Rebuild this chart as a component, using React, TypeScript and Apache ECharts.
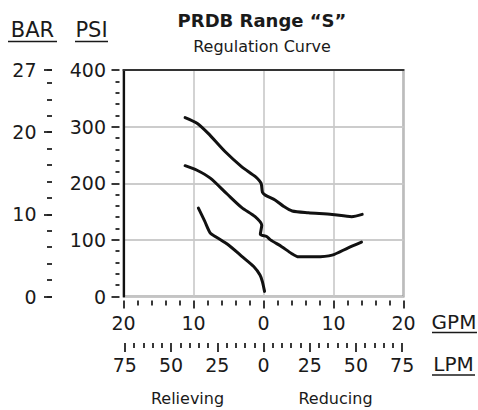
import React, { useEffect, useRef } from "react";
import * as echarts from "echarts";

// ---- data (GPM signed: negative = relieving, positive = reducing; PSI) ----
const curveHigh: [number, number][] = [
  [-11.2, 316], [-9.5, 306], [-7.9, 288], [-5.5, 256], [-3.1, 229], [-1.2, 212],
  [-0.35, 200], [-0.15, 184], [0.25, 179], [1.7, 170], [2.9, 159], [4.1, 151],
  [6.4, 148], [9.8, 145], [12.6, 141], [14.1, 145],
];
const curveMid: [number, number][] = [
  [-11.2, 231], [-9.5, 223], [-7.6, 209], [-5.2, 181], [-3.1, 157], [-1.2, 141],
  [-0.25, 126], [-0.45, 110], [0.45, 106], [1.0, 100], [2.6, 88], [4.0, 76],
  [5.0, 70], [7.4, 70], [9.8, 73], [12.1, 86], [14.0, 96],
];
const curveLow: [number, number][] = [
  [-9.3, 156], [-8.4, 133], [-7.6, 112], [-6.9, 106], [-5.0, 91], [-3.1, 71],
  [-1.4, 53], [-0.5, 38], [-0.15, 26], [0.15, 9],
];

const gpmRange = [-20, 20];
const gpmStep = 10;
const lpmRange = [-75, 75];
const lpmStep = 25;
const psiRange = [0, 400];
const psiStep = 100;
const barLabels = [0, 10, 20, 27];
const PSI_PER_BAR = 14.5038;
const LPM_PER_GPM = 3.78541;

const titleText = "PRDB Range \u201CS\u201D";
const subtitleText = "Regulation Curve";

const FONT = '"DejaVu Sans", "Liberation Sans", Arial, sans-serif';
const INK = "#1a1a1a";

export default function App() {
  const ref = useRef<HTMLDivElement>(null);
  useEffect(() => {
    if (!ref.current) return;
    const chart = echarts.init(ref.current, null, { renderer: "svg" });

    const gLeft = 123.5;
    const gWidth = 280;
    const gTop = 70;
    const gHeight = 226.5;
    const pxPerGpm = gWidth / (gpmRange[1] - gpmRange[0]);
    const lpmHalf = (lpmRange[1] / LPM_PER_GPM) * pxPerGpm;
    const zeroX = gLeft + gWidth / 2;
    const barMax = psiRange[1] / PSI_PER_BAR;

    const tickStyle = { color: "#222", width: 1.8 };
    const labelStyle = { fontFamily: FONT, fontSize: 19, color: INK };
    const gridLine = () => ({ show: true, lineStyle: { color: "#c8c8c8", width: 1.6, type: "solid" } });

    const lineSeries = (data: [number, number][]) => ({
      type: "line",
      data,
      xAxisIndex: 0,
      yAxisIndex: 0,
      symbol: "none",
      smooth: 0.25,
      lineStyle: { color: "#111", width: 3, cap: "round", join: "round" },
      z: 5,
    });

    const textEl = (text: string, x: number, y: number, size: number, bold = false) => ({
      type: "text",
      x,
      y,
      style: {
        text,
        fontFamily: FONT,
        fontSize: size,
        fontWeight: bold ? "bold" : "normal",
        fill: INK,
        align: "center",
        verticalAlign: "middle",
      },
    });
    const underline = (x1: number, x2: number, y: number) => ({
      type: "line",
      shape: { x1, y1: y, x2, y2: y },
      style: { stroke: INK, lineWidth: 1.6 },
    });

    const option: any = {
      animation: false,
      backgroundColor: "#fff",
      grid: [
        {
          left: gLeft, top: gTop, width: gWidth, height: gHeight,
          show: true, backgroundColor: "transparent", borderColor: "#8a8a8a", borderWidth: 2,
          containLabel: false, z: 0,
        },
        {
          left: zeroX - lpmHalf, top: 300, width: lpmHalf * 2, height: 43,
          show: false, containLabel: false,
        },
      ],
      xAxis: [
        {
          gridIndex: 0, type: "value", position: "bottom", offset: 4, z: 2,
          min: gpmRange[0], max: gpmRange[1], interval: gpmStep,
          axisLine: { show: false, onZero: false },
          axisTick: { show: true, length: 8, lineStyle: tickStyle },
          minorTick: { show: true, splitNumber: 5, length: 5, lineStyle: tickStyle },
          axisLabel: {
            ...labelStyle, margin: 13, showMinLabel: true, showMaxLabel: true,
            formatter: (v: number) => String(Math.abs(v)),
          },
          splitLine: gridLine(),
        },
        {
          gridIndex: 0, type: "value", position: "top", z: 3,
          min: gpmRange[0], max: gpmRange[1],
          axisLine: { show: true, onZero: false, lineStyle: { color: "#333", width: 2 } },
          axisTick: { show: false }, axisLabel: { show: false }, splitLine: { show: false },
        },
        {
          gridIndex: 1, type: "value", position: "bottom",
          min: lpmRange[0], max: lpmRange[1], interval: lpmStep,
          axisLine: { show: false, onZero: false },
          axisTick: { show: true, length: 9, lineStyle: tickStyle },
          minorTick: { show: true, splitNumber: 5, length: 5, lineStyle: tickStyle },
          axisLabel: {
            ...labelStyle, margin: 12, showMinLabel: true, showMaxLabel: true,
            formatter: (v: number) => String(Math.abs(v)),
          },
          splitLine: { show: false },
        },
      ],
      yAxis: [
        {
          gridIndex: 0, type: "value", position: "left", offset: 4, z: 2,
          min: psiRange[0], max: psiRange[1], interval: psiStep,
          axisLine: { show: false, onZero: false },
          axisTick: { show: true, length: 8, lineStyle: tickStyle },
          minorTick: { show: true, splitNumber: 5, length: 4, lineStyle: tickStyle },
          axisLabel: { ...labelStyle, margin: 13.5 },
          splitLine: gridLine(),
        },
        {
          gridIndex: 0, type: "value", position: "left", offset: 0, z: 3,
          min: psiRange[0], max: psiRange[1], interval: psiStep,
          axisLine: { show: true, onZero: false, lineStyle: { color: "#111", width: 2.2 } },
          axisTick: { show: false }, axisLabel: { show: false }, splitLine: gridLine(),
        },
        {
          gridIndex: 0, type: "value", position: "left", offset: gLeft - 52,
          min: 0, max: barMax, interval: 10,
          axisLine: { show: false, onZero: false },
          axisTick: { show: true, length: 8, lineStyle: tickStyle },
          axisLabel: {
            ...labelStyle, margin: 15.5, showMinLabel: true, showMaxLabel: true,
            formatter: (v: number) => {
              const r = Math.floor(v + 1e-6);
              return barLabels.includes(r) ? String(r) : "";
            },
          },
          splitLine: { show: false },
        },
        {
          gridIndex: 0, type: "value", position: "left", offset: gLeft - 52,
          min: 0, max: barMax, interval: 2,
          axisLine: { show: false, onZero: false },
          axisTick: { show: true, length: 5, lineStyle: tickStyle },
          axisLabel: { show: false },
          splitLine: { show: false },
        },
        {
          gridIndex: 1, type: "value", show: false, min: 0, max: 1,
        },
      ],
      series: [lineSeries(curveHigh), lineSeries(curveMid), lineSeries(curveLow)],
      graphic: [
        textEl(titleText, 262, 20, 18, true),
        textEl(subtitleText, 262, 46.5, 16),
        textEl("BAR", 32.5, 30, 21),
        underline(8, 57, 41.5),
        textEl("PSI", 91.5, 30, 21),
        underline(75, 108, 41.5),
        textEl("GPM", 454, 321.5, 20),
        underline(432, 477, 332.5),
        textEl("LPM", 453.5, 363.5, 20),
        underline(432, 475, 375),
        textEl("Relieving", 187.5, 398, 16),
        textEl("Reducing", 335.5, 398, 16),
      ],
    };

    chart.setOption(option);
    return () => chart.dispose();
  }, []);

  return (
    <div
      ref={ref}
      style={{ position: "fixed", left: 0, top: 0, width: 478, height: 410, background: "#fff" }}
    />
  );
}
